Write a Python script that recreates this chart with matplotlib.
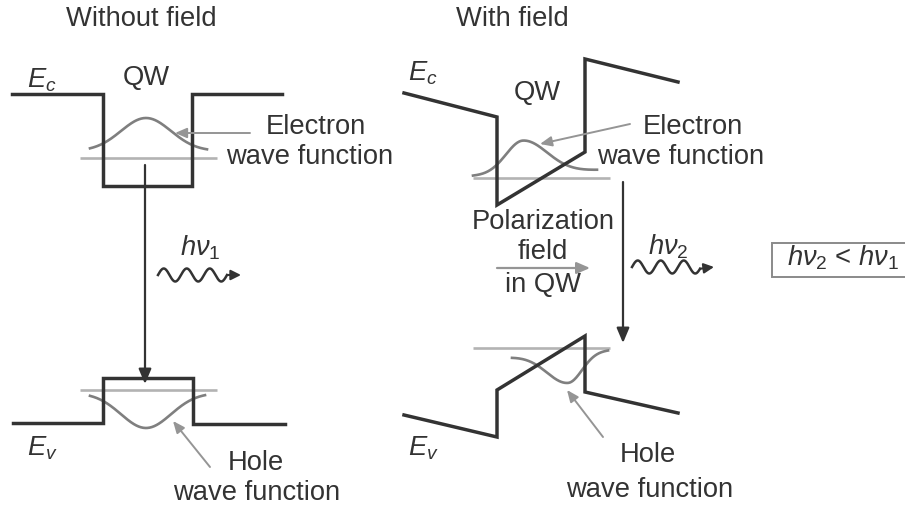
import numpy as np
import matplotlib
matplotlib.use("Agg")
import matplotlib.pyplot as plt
from matplotlib.patches import Rectangle

plt.rcParams['font.family'] = ['Liberation Sans', 'DejaVu Sans']
plt.rcParams['mathtext.fontset'] = 'custom'
plt.rcParams['mathtext.it'] = 'Liberation Sans:italic'
plt.rcParams['mathtext.rm'] = 'Liberation Sans'
plt.rcParams['mathtext.default'] = 'it'

# ---- diagram geometry (pixel coordinates of the reference) ----
# Without field: band edges
ec_left_x = [12, 103, 103, 192, 192, 282]
ec_left_y = [94, 94, 186, 186, 94, 94]
ev_left_x = [13, 103, 103, 193, 193, 285]
ev_left_y = [423, 423, 378, 378, 424, 424]
# With field: band edges
ec_right_x = [404, 497, 497, 585, 585, 678]
ec_right_y = [93, 117, 205, 152, 59, 82]
ev_right_x = [404, 497, 497, 585, 585, 678]
ev_right_y = [415, 437, 390, 336, 392, 413]

# energy levels: (x0, x1, y)
levels = [(80, 217, 158), (80, 217, 390), (473, 610, 178), (473, 610, 348)]

# wave functions: (x0, x1, y_base_left, y_base_right, center, amplitude, sigma_left, sigma_right)
wavefuncs = [
    (90, 207, 151, 151, 146, -33, 25, 25),     # electron, no field
    (90, 205, 393, 393, 146, 35, 25, 25),      # hole, no field
    (473, 597, 176, 170, 523, -33, 17, 24),    # electron, field
    (512, 608, 357, 350, 568, 30, 21, 14),     # hole, field
]

dark = '#333333'
wf_col = '#7f7f7f'
lvl_col = '#b3b3b3'
ptr_col = '#959595'
fs = 19.7

fig = plt.figure(figsize=(9.05, 5.08), dpi=100)
ax = fig.add_axes([0, 0, 1, 1])
ax.set_xlim(0, 905)
ax.set_ylim(508, 0)
ax.axis('off')

# levels
for x0, x1, y in levels:
    ax.plot([x0, x1], [y, y], color=lvl_col, lw=1.9, solid_capstyle='butt', zorder=2)

# wave functions
for x0, x1, bl, br, c, a, sl, sr in wavefuncs:
    x = np.linspace(x0, x1, 200)
    base = bl + (br - bl) * (x - x0) / (x1 - x0)
    sig = np.where(x < c, sl, sr)
    y = base + a * np.exp(-(x - c) ** 2 / (2 * sig ** 2))
    ax.plot(x, y, color=wf_col, lw=1.9, zorder=3)

# band edges
for xs, ys in [(ec_left_x, ec_left_y), (ev_left_x, ev_left_y),
               (ec_right_x, ec_right_y), (ev_right_x, ev_right_y)]:
    ax.plot(xs, ys, color=dark, lw=2.5, solid_joinstyle='miter', zorder=4)

# transition arrows
def arrow(x0, y0, x1, y1, color, lw, hw=0.5, hl=0.9):
    ax.annotate('', xy=(x1, y1), xytext=(x0, y0),
                arrowprops=dict(arrowstyle=f'-|>,head_width={hw},head_length={hl}',
                                color=color, lw=lw, shrinkA=0, shrinkB=0), zorder=5)

arrow(145, 165, 145, 384, dark, 1.6, 0.38, 0.9)
arrow(623, 182, 623, 343, dark, 1.6, 0.38, 0.9)

# pointer arrows
arrow(250, 133, 175, 133, ptr_col, 1.4, 0.3, 0.7)
arrow(210, 467, 173, 421, ptr_col, 1.4, 0.3, 0.7)
arrow(630, 124, 540, 144, ptr_col, 1.4, 0.3, 0.7)
arrow(603, 437, 567, 390, ptr_col, 1.4, 0.3, 0.7)
# polarization field arrow
arrow(497, 268, 590, 268, ptr_col, 1.6, 0.35, 0.8)

# photon wavy arrows
def photon(x0, x1, y):
    x = np.linspace(x0, x1 - 14, 200)
    yy = y - 6.5 * np.sin(2 * np.pi * (x - x0) / 23)
    ax.plot(x, yy, color=dark, lw=1.8, zorder=5)
    arrow(x1 - 14, yy[-1], x1, y, dark, 1.5, 0.3, 0.6)

photon(158, 241, 275)
photon(632, 714, 267)

# box
ax.add_patch(Rectangle((772, 243), 140, 34, facecolor='white', edgecolor='#8a8a8a', lw=1.4, zorder=5))

def t(x, y, s, **kw):
    ax.text(x, y, s, ha='center', va='center', fontsize=fs, color=dark, zorder=6, **kw)

t(141, 19, 'Without field')
t(512, 19, 'With field')
t(42, 80, r'$E_c$')
t(42, 448, r'$E_v$')
t(423, 73, r'$E_c$')
t(423, 448, r'$E_v$')
t(146, 78, 'QW')
t(537, 93, 'QW')
t(316, 127, 'Electron')
t(310, 157, 'wave function')
t(693, 127, 'Electron')
t(681, 157, 'wave function')
t(256, 463, 'Hole')
t(257, 493, 'wave function')
t(648, 455, 'Hole')
t(650, 490, 'wave function')
t(543, 222, 'Polarization')
t(543, 252, 'field')
t(543, 285, 'in QW')
t(200, 248, r'$h\nu_{\mathrm{1}}$')
t(668, 247, r'$h\nu_{\mathrm{2}}$')
t(843, 258, r'$h\nu_{\mathrm{2}}$ < $h\nu_{\mathrm{1}}$')

fig.savefig('out.png', dpi=100)
